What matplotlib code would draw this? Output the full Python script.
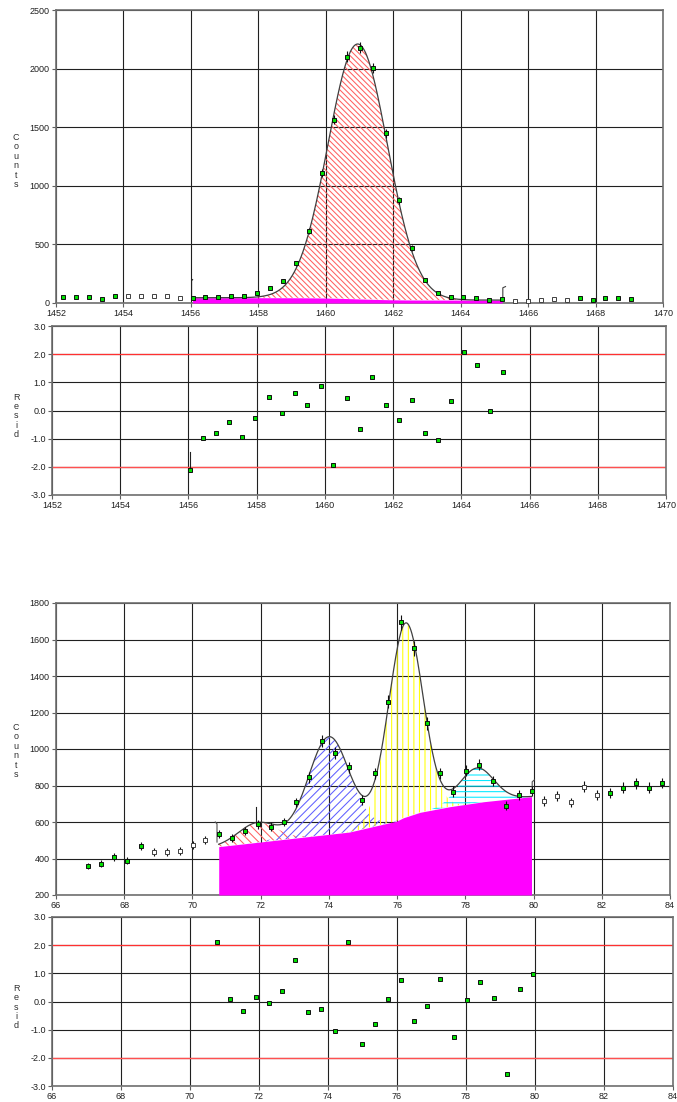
import numpy as np
import matplotlib.pyplot as plt
from math import erf

plt.rcParams['font.family'] = ['Liberation Sans', 'DejaVu Sans']
plt.rcParams['font.size'] = 6.5
plt.rcParams['hatch.linewidth'] = 0.75

# ---------------- 1460 keV region (upper pair) ----------------
energy_a = [1452.22, 1452.60, 1452.99, 1453.36, 1453.75, 1454.14, 1454.52, 1454.90, 1455.28, 1455.67,
            1456.05, 1456.43, 1456.81, 1457.20, 1457.58, 1457.95, 1458.35, 1458.73, 1459.11, 1459.49,
            1459.88, 1460.25, 1460.64, 1461.02, 1461.39, 1461.79, 1462.16, 1462.55, 1462.93, 1463.32,
            1463.70, 1464.08, 1464.46, 1464.85, 1465.23, 1465.61, 1466.00, 1466.37, 1466.76, 1467.14,
            1467.53, 1467.91, 1468.29, 1468.67, 1469.06]
counts_a = [48, 48, 48, 34, 57, 62, 57, 62, 57, 40,
            40, 48, 48, 62, 62, 85, 125, 190, 338, 611,
            1111, 1565, 2102, 2179, 2006, 1449, 878, 469, 196, 82,
            51, 48, 40, 28, 34, 20, 20, 28, 34, 28,
            40, 28, 40, 40, 34]
# 1 = channel used in the fit / background, 0 = excluded
used_a = [1] * 5 + [0] * 5 + [1] * 25 + [0] * 5 + [1] * 5
resid_a = [-2.10, -0.97, -0.81, -0.40, -0.93, -0.25, 0.48, -0.08, 0.63, 0.21,
           0.87, -1.92, 0.43, -0.67, 1.20, 0.21, -0.33, 0.38, -0.79, -1.06,
           0.32, 2.07, 1.62, -0.02, 1.35]
roi_a = (1456.05, 1465.23)
peak_a = dict(centroid=1460.95, sigma=0.88, height=2175)
bg_a = (45, 25)  # step background: left level, right level

# ---------------- 66-84 keV region (lower pair) ----------------
energy_b = [66.95, 67.33, 67.71, 68.09, 68.48, 68.86, 69.24, 69.63, 70.01, 70.38,
            70.77, 71.15, 71.53, 71.91, 72.29, 72.67, 73.05, 73.43, 73.81, 74.19,
            74.58, 74.98, 75.36, 75.74, 76.11, 76.49, 76.88, 77.26, 77.64, 78.03,
            78.41, 78.80, 79.18, 79.56, 79.94, 80.32, 80.70, 81.09, 81.48, 81.86,
            82.24, 82.62, 83.00, 83.39, 83.77]
counts_b = [359, 370, 408, 388, 469, 434, 434, 441, 474, 502,
            533, 513, 551, 588, 575, 600, 707, 845, 1043, 977,
            899, 721, 866, 1259, 1694, 1551, 1140, 867, 767, 880,
            915, 825, 690, 750, 769, 717, 745, 707, 794, 750,
            761, 789, 811, 789, 814]
used_b = [1] * 5 + [0] * 5 + [1] * 25 + [0] * 5 + [1] * 5
resid_b = [2.13, 0.09, -0.32, 0.17, -0.05, 0.39, 1.46, -0.37, -0.26, -1.04,
           2.12, -1.51, -0.81, 0.09, 0.75, -0.68, -0.15, 0.79, -1.26, 0.06,
           0.71, 0.14, -2.56, 0.46, 0.98]
roi_b = (70.77, 79.94)
centroids_b = [71.90, 74.00, 76.25, 78.33]
sigmas_b = [0.55, 0.60, 0.50, 0.50]
heights_b = [108, 535, 1063, 190]
hatch_b = ['\\\\\\\\', '////', '|||', '---']
hcolor_b = ['#ff6060', '#6060ff', '#ffff00', '#00e8ff']
bg_knots_x = [70.77, 74.60, 75.99, 76.18, 76.67, 77.55, 78.53, 79.94]
bg_knots_y = [465, 545, 605, 623, 653, 684, 711, 739]

W, H = 677, 1102
fig = plt.figure(figsize=(W / 100, H / 100), dpi=100)


def box(l, t, r, b):
    return [l / W, 1 - b / H, (r - l) / W, (b - t) / H]


def style(ax, xlim, ylim, yticks, fmt=None):
    ax.set_xlim(*xlim)
    ax.set_ylim(*ylim)
    ax.set_xticks(np.arange(xlim[0], xlim[1] + 1, 2))
    ax.set_yticks(yticks)
    if fmt:
        ax.set_yticklabels([fmt % v for v in yticks])
    ax.set_axisbelow(True)
    ax.grid(True, color='#202020', lw=0.8)
    for s in ax.spines.values():
        s.set_color('#707070')
        s.set_linewidth(1.2)
    ax.tick_params(length=3, width=0.8, color='#606060', pad=1.5, labelcolor='#202020')


def draw_points(ax, e, c, used, errors=True):
    e = np.array(e)
    c = np.array(c, dtype=float)
    u = np.array(used) == 1
    if errors:
        ax.errorbar(e, c, yerr=np.sqrt(c), fmt='none', ecolor='#101010', elinewidth=0.8, zorder=5)
    ax.plot(e[u], c[u], 's', ms=3.2, mfc='#00e000', mec='#101010', mew=0.7, zorder=6)
    ax.plot(e[~u], c[~u], 's', ms=3.2, mfc='white', mec='#404040', mew=0.7, zorder=6)


def gauss(x, c, s, h):
    return h * np.exp(-(x - c) ** 2 / (2 * s ** 2))


def resid_panel(ax, e, r, xlim):
    style(ax, xlim, (-3, 3), np.arange(-3, 4, 1), '%.1f')
    ax.axhline(2, color='#ff3030', lw=0.9, zorder=2)
    ax.axhline(-2, color='#ff5050', lw=1.0, zorder=2)
    ax.plot(e, r, 's', ms=3.2, mfc='#00e000', mec='#101010', mew=0.7, zorder=6)


# ---------- upper spectrum ----------
ax1 = fig.add_axes(box(56, 10, 663, 303))
style(ax1, (1452, 1470), (0, 2500), np.arange(0, 2501, 500))
xa = np.linspace(roi_a[0], roi_a[1], 500)
step = np.array([0.5 * (1 - erf((v - peak_a['centroid']) / (peak_a['sigma'] * np.sqrt(2)))) for v in xa])
bga = bg_a[1] + (bg_a[0] - bg_a[1]) * step
ga = gauss(xa, peak_a['centroid'], peak_a['sigma'], peak_a['height'])
ax1.fill_between(xa, 0, bga, color='#ff00ff', lw=0, zorder=3)
ax1.fill_between(xa, bga, bga + ga, facecolor='none', edgecolor='#ff6060',
                 hatch='\\\\\\\\\\\\', lw=0, zorder=2)
ax1.plot(xa, bga + ga, color='#404040', lw=0.9, zorder=4)
ax1.plot([roi_a[0] - 0.03, roi_a[0] - 0.03, roi_a[0]], [45, 190, 200], color='#202020', lw=0.8, zorder=4)
ax1.plot([roi_a[1] + 0.02, roi_a[1] + 0.02, roi_a[1] + 0.1], [35, 130, 140], color='#404040', lw=0.8, zorder=4)
draw_points(ax1, energy_a, counts_a, used_a)

# ---------- upper residuals ----------
ax2 = fig.add_axes(box(52, 326, 666, 495))
resid_panel(ax2, energy_a[10:35], resid_a, (1452, 1470))
ax2.plot([roi_a[0], roi_a[0]], [resid_a[0], -1.47], color='#202020', lw=0.8, zorder=5)

# ---------- lower spectrum ----------
ax3 = fig.add_axes(box(56, 603, 670, 895))
style(ax3, (66, 84), (200, 1800), np.arange(200, 1801, 200))
xb = np.linspace(roi_b[0], roi_b[1], 600)
bgb = np.interp(xb, bg_knots_x, bg_knots_y)
comps = [gauss(xb, c, s, h) for c, s, h in zip(centroids_b, sigmas_b, heights_b)]
ax3.fill_between(xb, 200, bgb, color='#ff00ff', lw=0, zorder=3)
for g, hs, hc in zip(comps, hatch_b, hcolor_b):
    ax3.fill_between(xb, bgb, bgb + g, facecolor='none', edgecolor=hc, hatch=hs, lw=0, zorder=2)
ax3.plot(xb, bgb + np.sum(comps, axis=0), color='#404040', lw=0.9, zorder=4)
ax3.plot([roi_b[0] - 0.05, roi_b[0] - 0.05, roi_b[0] - 0.1], [490, 590, 600], color='#505050', lw=0.8, zorder=4)
ax3.plot([roi_b[1] + 0.02, roi_b[1] + 0.02, roi_b[1] + 0.08], [760, 820, 830], color='#505050', lw=0.8, zorder=4)
ax3.plot([71.85, 71.85], [590, 680], color='#202020', lw=0.8, zorder=4)
draw_points(ax3, energy_b, counts_b, used_b)

# ---------- lower residuals ----------
ax4 = fig.add_axes(box(52, 917, 673, 1086))
resid_panel(ax4, energy_b[10:35], resid_b, (66, 84))

# stacked axis titles
lab = dict(ha='center', va='center', linespacing=1.05, color='#303030', fontsize=6.5)
fig.text(16 / W, 1 - 161 / H, '\n'.join('Counts'), **lab)
fig.text(16 / W, 1 - 416 / H, '\n'.join('Resid'), **lab)
fig.text(16 / W, 1 - 751 / H, '\n'.join('Counts'), **lab)
fig.text(16 / W, 1 - 1007 / H, '\n'.join('Resid'), **lab)

fig.savefig('out.png', dpi=100)
